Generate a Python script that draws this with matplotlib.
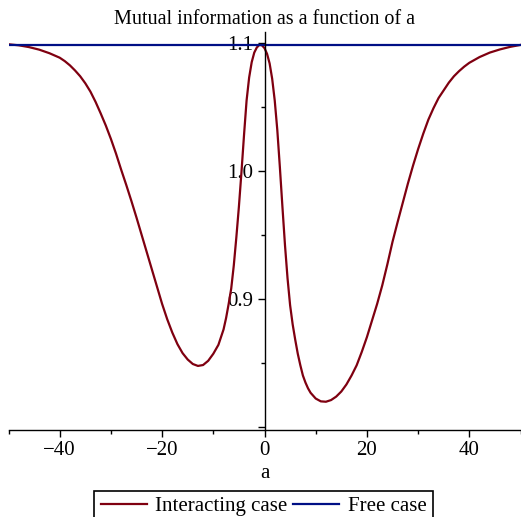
# -*- coding: utf-8 -*-
"""
plot.py
Mutual information as a function of a (interacting vs free case)
"""

import matplotlib
matplotlib.use("Agg")
import matplotlib.pyplot as plt
from matplotlib.ticker import FixedLocator

# data
a_vals = [-50, -48, -46, -44, -42, -40, -39, -38, -37, -36, -35, -34, -33,
          -32, -31, -30, -29, -28, -27, -26, -25, -24, -23, -22, -21, -20,
          -19, -18, -17, -16, -15, -14, -13, -12, -11, -10, -9, -8, -7.5,
          -7, -6.5, -6, -5.5, -5, -4.5, -4, -3.5, -3, -2.5, -2, -1.5, -1,
          -0.5, 0, 0.5, 1, 1.5, 2, 2.5, 3, 3.5, 4, 4.5, 5, 5.5, 6, 6.5, 7,
          7.5, 8, 8.5, 9, 10, 11, 12, 13, 14, 15, 16, 17, 18, 19, 20, 21,
          22, 23, 24, 25, 26, 27, 28, 29, 30, 31, 32, 33, 34, 35, 36, 37,
          38, 39, 40, 42, 44, 46, 48, 50]
interacting = [1.0990, 1.0982, 1.0968, 1.0948, 1.0920, 1.0885, 1.0858,
               1.0825, 1.0785, 1.0740, 1.0685, 1.0620, 1.0540, 1.0450,
               1.0355, 1.0250, 1.0135, 1.0010, 0.9890, 0.9765, 0.9635,
               0.9500, 0.9365, 0.9230, 0.9095, 0.8960, 0.8840, 0.8735,
               0.8645, 0.8575, 0.8525, 0.8490, 0.8475, 0.8482, 0.8515,
               0.8570, 0.8640, 0.8760, 0.8850, 0.8960, 0.9080, 0.9260,
               0.9480, 0.9720, 0.9990, 1.0280, 1.0550, 1.0730, 1.0850,
               1.0925, 1.0965, 1.0985, 1.0982, 1.0960, 1.0915, 1.0840,
               1.0720, 1.0550, 1.0320, 1.0030, 0.9720, 0.9420, 0.9160,
               0.8950, 0.8800, 0.8680, 0.8570, 0.8480, 0.8400, 0.8345,
               0.8300, 0.8265, 0.8220, 0.8198, 0.8195, 0.8208, 0.8235,
               0.8275, 0.8330, 0.8400, 0.8480, 0.8585, 0.8700, 0.8830,
               0.8960, 0.9105, 0.9270, 0.9445, 0.9600, 0.9750, 0.9900,
               1.0040, 1.0170, 1.0290, 1.0400, 1.0490, 1.0570, 1.0630,
               1.0690, 1.0740, 1.0780, 1.0815, 1.0845, 1.0890, 1.0925,
               1.0950, 1.0970, 1.0985]
free_a = [-50, 50]
free = [1.0986, 1.0986]

y_ticks = [0.8, 0.9, 1.0, 1.1]
y_labels = ["", "0.9", "1.0", "1.1"]
y_minor = [0.85, 0.95, 1.05]
x_ticks = [-40, -20, 0, 20, 40]
x_labels = ["\u221240", "\u221220", "0", "20", "40"]
x_minor = [-50, -30, -10, 10, 30, 50]

RED = "#7f0010"
BLUE = "#000f85"

plt.rcParams["font.family"] = ["Liberation Serif", "DejaVu Serif"]

fig = plt.figure(figsize=(5.21, 5.17), dpi=100)
ax = fig.add_axes([8.5 / 521, 1 - 430 / 517, 512 / 521, 398 / 517])

l1, = ax.plot(a_vals, interacting, color=RED, lw=1.6, label="Interacting case",
              solid_joinstyle="round")
l2, = ax.plot(free_a, free, color=BLUE, lw=1.6, label="Free case")

ax.set_xlim(-50, 50)
ax.set_ylim(0.7974, 1.1086)

# maple-like axes: y axis through a = 0, x axis at the bottom
ax.spines["left"].set_position(("data", 0))
ax.spines["top"].set_visible(False)
ax.spines["right"].set_visible(False)
for s in ("left", "bottom"):
    ax.spines[s].set_linewidth(1.0)

ax.set_xticks(x_ticks)
ax.set_xticklabels(x_labels)
ax.xaxis.set_minor_locator(FixedLocator(x_minor))
ax.set_yticks(y_ticks)
ax.set_yticklabels(y_labels)
ax.yaxis.set_minor_locator(FixedLocator(y_minor))
ax.tick_params(which="major", direction="out", length=5, width=1,
               labelsize=15, pad=3)
ax.tick_params(which="minor", direction="out", length=3, width=1)

ax.set_xlabel("a", fontsize=15, labelpad=3)
ax.set_title("Mutual information as a function of a", fontsize=14.5, pad=6)

# legend box sits at the bottom edge, partly cut off like the original
leg = fig.legend(handles=[l1, l2], loc="lower center", ncol=2,
                 bbox_to_anchor=(263.5 / 521, -0.011), fontsize=15,
                 frameon=True, fancybox=False, edgecolor="black",
                 handlelength=2.2, columnspacing=0.3, handletextpad=0.4,
                 borderpad=0.3, borderaxespad=0, framealpha=1)
leg.get_frame().set_linewidth(1.2)

fig.savefig("out.png", dpi=100)
